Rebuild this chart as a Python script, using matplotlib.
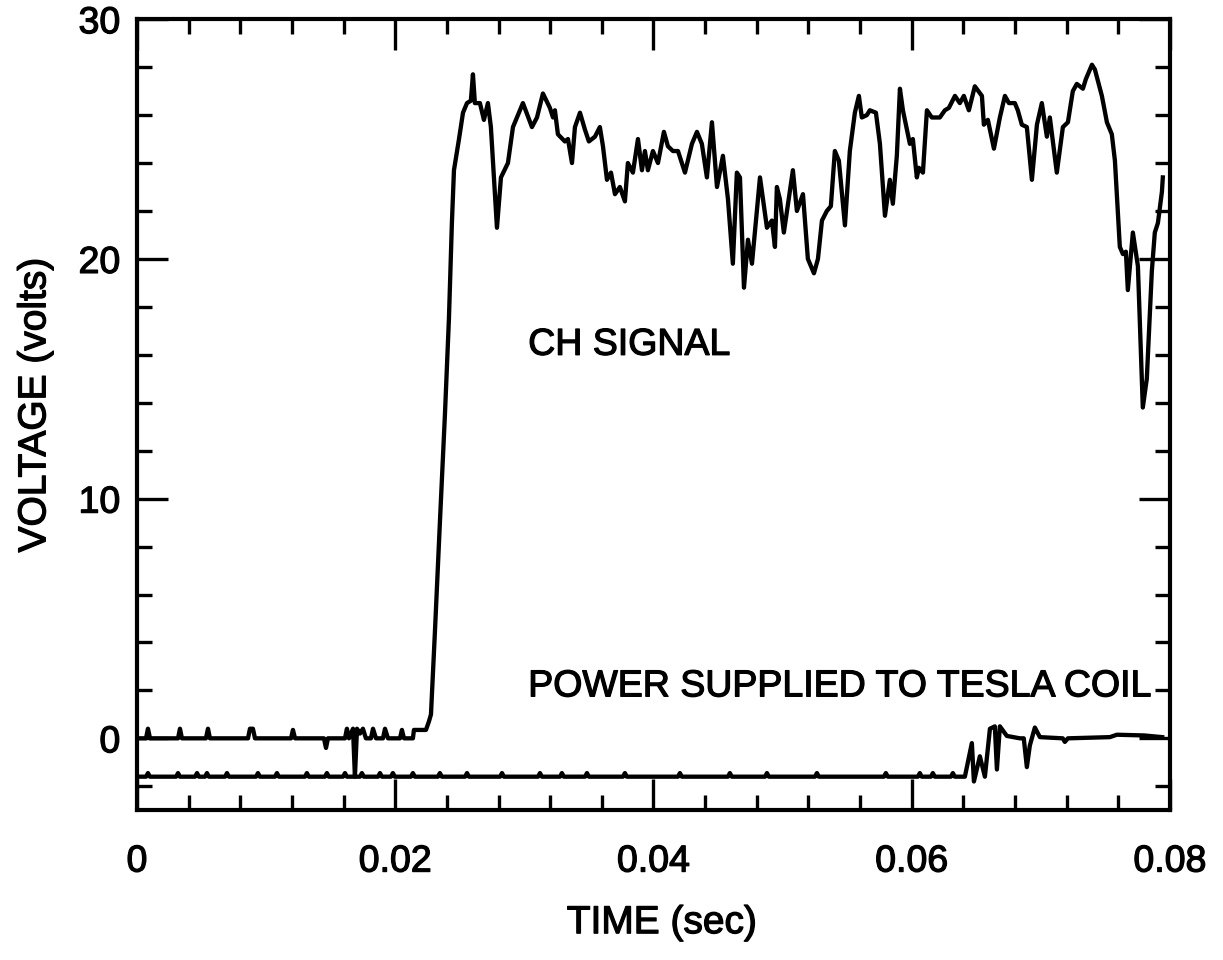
import matplotlib
matplotlib.use("Agg")
import matplotlib.pyplot as plt
import matplotlib.patheffects as pe
from matplotlib.ticker import MultipleLocator, FuncFormatter
import numpy as np

plt.rcParams['font.family'] = ['Liberation Sans', 'DejaVu Sans']

# CH signal trace, (time in ms, volts)
ch_trace = [
    (0.00, 0.0), (0.70, 0.0), (0.85, 0.4), (1.01, 0.0), (3.18, 0.0), (3.33, 0.4), (3.48, 0.0),
    (5.34, 0.0), (5.50, 0.4), (5.65, 0.0), (8.60, 0.0), (8.75, 0.4), (8.98, 0.4), (9.14, 0.0),
    (11.93, 0.0), (12.08, 0.35), (12.24, 0.0), (14.48, 0.0), (14.64, -0.4), (14.79, 0.0),
    (16.11, 0.0), (16.26, 0.4), (16.42, 0.0), (16.73, 0.4), (16.88, -1.6), (17.04, 0.4),
    (17.27, 0.2), (17.50, 0.4), (17.73, 0.0), (18.12, 0.0), (18.28, 0.4), (18.51, 0.0),
    (19.05, 0.0), (19.21, 0.4), (19.44, 0.0), (20.37, 0.0), (20.52, 0.35), (20.68, 0.0),
    (21.37, 0.0), (21.45, 0.35), (22.38, 0.35), (22.61, 0.7), (22.77, 1.0), (23.08, 4.5),
    (23.46, 9.0), (23.85, 13.5), (24.16, 17.5), (24.39, 21.5), (24.55, 23.7),
    (24.94, 25.0), (25.25, 26.1), (25.56, 26.5), (25.86, 26.6), (26.02, 27.7), (26.17, 26.5),
    (26.56, 26.5), (26.87, 25.8), (27.18, 26.5), (27.41, 25.5), (27.88, 21.3), (28.19, 23.4),
    (28.73, 24.0), (29.12, 25.5), (29.89, 26.5), (30.59, 25.5), (30.98, 25.9), (31.44, 26.9),
    (31.98, 26.3), (32.22, 25.9), (32.37, 26.2), (32.60, 25.2), (33.14, 24.9), (33.38, 25.0),
    (33.69, 24.0), (33.92, 25.5), (34.31, 26.1), (34.69, 25.4), (35.00, 24.9), (35.47, 25.1),
    (35.85, 25.5), (36.09, 24.7), (36.40, 23.3), (36.71, 23.6), (37.02, 22.7), (37.40, 23.0),
    (37.79, 22.4), (38.02, 24.0), (38.41, 23.6), (38.80, 25.0), (39.11, 23.7), (39.34, 24.5),
    (39.57, 23.7), (39.96, 24.5), (40.35, 24.0), (40.81, 25.3), (41.12, 24.7), (41.51, 24.5),
    (41.90, 24.5), (42.44, 23.6), (42.98, 24.8), (43.37, 25.3), (43.75, 24.8), (44.14, 23.4),
    (44.53, 25.7), (44.92, 23.0), (45.38, 24.3), (45.77, 22.5), (46.15, 19.8), (46.46, 23.6),
    (46.70, 23.4), (47.01, 18.8), (47.32, 20.8), (47.63, 19.8), (48.25, 23.4), (48.79, 21.3),
    (49.17, 21.6), (49.41, 20.5), (49.56, 23.0), (49.79, 22.5), (50.10, 21.1), (50.80, 23.7),
    (51.11, 22.0), (51.58, 22.7), (51.96, 20.0), (52.43, 19.4), (52.74, 20.0), (53.05, 21.6),
    (53.43, 22.0), (53.74, 22.2), (54.05, 24.5), (54.36, 24.1), (54.83, 21.4), (55.21, 24.5),
    (55.60, 26.1), (55.91, 26.8), (56.14, 25.9), (56.53, 26.0), (56.76, 26.2), (57.23, 26.1),
    (57.54, 24.8), (57.93, 21.8), (58.31, 23.3), (58.54, 22.3), (58.85, 24.3), (59.09, 27.1),
    (59.32, 26.2), (59.86, 24.8), (60.09, 25.0), (60.40, 23.4), (60.56, 23.8), (60.87, 23.6),
    (61.18, 26.2), (61.56, 25.9), (62.18, 25.9), (62.57, 26.2), (62.88, 26.3), (63.35, 26.8),
    (63.73, 26.5), (64.04, 26.8), (64.43, 26.2), (64.89, 27.2), (65.44, 26.8), (65.59, 25.6),
    (65.90, 25.8), (66.37, 24.6), (66.83, 25.9), (67.22, 26.8), (67.53, 26.5), (67.99, 26.5),
    (68.22, 26.2), (68.53, 25.6), (68.92, 25.5), (69.31, 23.3), (69.70, 25.6), (70.08, 26.5),
    (70.47, 25.1), (70.70, 25.9), (71.24, 23.6), (71.71, 25.5), (72.10, 25.7), (72.48, 27.0),
    (72.79, 27.3), (73.26, 27.1), (73.49, 27.5), (73.96, 28.1), (74.19, 27.9), (74.73, 26.8),
    (75.12, 25.7), (75.50, 25.2), (75.74, 24.1), (76.12, 20.5), (76.36, 20.2), (76.59, 20.3),
    (76.74, 18.7), (77.13, 21.1), (77.52, 19.7), (77.90, 13.8), (78.21, 15.0), (78.60, 19.5),
    (78.83, 21.1), (79.07, 21.5), (79.38, 22.8), (79.45, 23.4),
]

# power supplied to the tesla coil, (time in ms, volts)
ps_trace = [
    (0.00, -1.6), (0.70, -1.6), (0.85, -1.45), (1.00, -1.6),
    (3.03, -1.6), (3.18, -1.45), (3.33, -1.6), (4.50, -1.6), (4.65, -1.45), (4.80, -1.6),
    (5.27, -1.6), (5.42, -1.45), (5.57, -1.6), (6.82, -1.6), (6.97, -1.45), (7.12, -1.6),
    (9.22, -1.6), (9.37, -1.45), (9.52, -1.6), (10.69, -1.6), (10.84, -1.45), (10.99, -1.6),
    (13.01, -1.6), (13.16, -1.45), (13.31, -1.6), (14.56, -1.6), (14.71, -1.45), (14.86, -1.6),
    (15.96, -1.6), (16.11, -1.45), (16.26, -1.6), (17.27, -1.6), (17.42, -1.45), (17.57, -1.6),
    (18.67, -1.6), (18.82, -1.45), (18.97, -1.6), (19.67, -1.6), (19.82, -1.45), (19.97, -1.6),
    (21.22, -1.6), (21.37, -1.45), (21.52, -1.6), (23.31, -1.6), (23.46, -1.45), (23.61, -1.6),
    (25.41, -1.6), (25.56, -1.45), (25.71, -1.6), (28.12, -1.6), (28.27, -1.45), (28.42, -1.6),
    (31.06, -1.6), (31.21, -1.45), (31.36, -1.6), (32.76, -1.6), (32.91, -1.45), (33.06, -1.6),
    (34.70, -1.6), (34.85, -1.45), (35.00, -1.6), (37.64, -1.6), (37.79, -1.45), (37.94, -1.6),
    (41.90, -1.6), (42.05, -1.45), (42.20, -1.6), (45.77, -1.6), (45.92, -1.45), (46.07, -1.6),
    (48.64, -1.6), (48.79, -1.45), (48.94, -1.6), (52.51, -1.6), (52.66, -1.45), (52.81, -1.6),
    (57.85, -1.6), (58.00, -1.45), (58.15, -1.6), (60.48, -1.6), (60.63, -1.45), (60.78, -1.6),
    (61.49, -1.6), (61.64, -1.45), (61.79, -1.6), (63.04, -1.6), (63.19, -1.45), (63.34, -1.6),
    (64.12, -1.6), (64.66, -0.2), (64.82, -1.8), (65.28, -0.75), (65.67, -1.6), (66.06, 0.4),
    (66.44, 0.5), (66.60, -1.3), (66.83, 0.5), (67.37, 0.1), (68.38, 0.0), (68.68, 0.0),
    (68.92, -1.2), (69.15, -0.3), (69.54, 0.45), (69.93, 0.05), (71.70, 0.0), (71.86, -0.15),
    (72.10, 0.0), (75.35, 0.05), (75.89, 0.15), (78.00, 0.12), (79.40, 0.05),
]

x_ticks = [0, 0.02, 0.04, 0.06, 0.08]
y_ticks = [0, 10, 20, 30]

ch = np.array(ch_trace)
ps = np.array(ps_trace)

# slightly heavier glyphs, like the scanned original
ink = [pe.withStroke(linewidth=0.9, foreground='black')]

fig = plt.figure(figsize=(12.23, 9.6), dpi=100)
ax = fig.add_axes([0.112, 0.156, 0.8446, 0.824])

ax.plot(ch[:, 0] / 1000, ch[:, 1], color='black', lw=3.1, solid_joinstyle='round')
ax.plot(ps[:, 0] / 1000, ps[:, 1], color='black', lw=3.1, solid_joinstyle='round')

ax.text(0.0303, 16.0, 'CH SIGNAL', fontsize=27, va='baseline', ha='left', path_effects=ink)
ax.text(0.0303, 1.75, 'POWER SUPPLIED TO TESLA COIL', fontsize=27, va='baseline', ha='left',
        path_effects=ink)

ax.set_xlim(0, 0.08)
ax.set_ylim(-3, 30)
ax.set_xticks(x_ticks)
ax.set_yticks(y_ticks)
ax.xaxis.set_minor_locator(MultipleLocator(0.004))
ax.yaxis.set_minor_locator(MultipleLocator(2))
ax.xaxis.set_major_formatter(FuncFormatter(lambda v, _: '0' if v == 0 else f'{v:.2f}'))
ax.yaxis.set_major_formatter(FuncFormatter(lambda v, _: f'{v:.0f}'))

ax.tick_params(which='both', direction='in', top=True, right=True, width=2.4, labelsize=27)
ax.tick_params(which='major', length=22)
ax.tick_params(which='minor', length=11)
ax.tick_params(axis='x', pad=24)
ax.tick_params(axis='y', pad=12)
for lab in ax.get_xticklabels() + ax.get_yticklabels():
    lab.set_path_effects(ink)
for s in ax.spines.values():
    s.set_linewidth(3.0)

ax.set_xlabel('TIME (sec)', fontsize=28, path_effects=ink)
ax.set_ylabel('VOLTAGE (volts)', fontsize=28, path_effects=ink)
ax.xaxis.set_label_coords(0.508, -0.12)
ax.yaxis.set_label_coords(-0.081, 0.512)

fig.savefig('out.png', dpi=100)
